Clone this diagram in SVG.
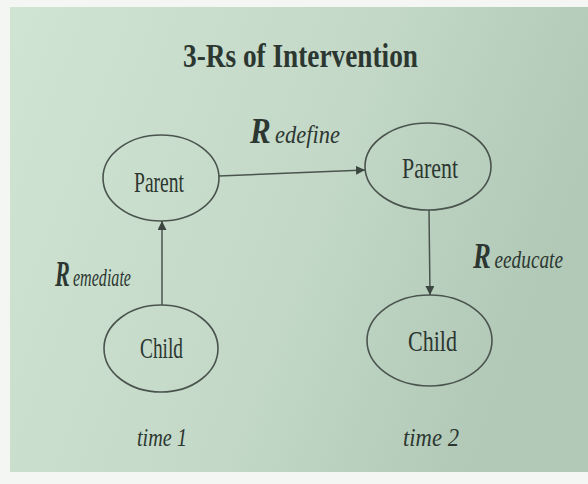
<svg xmlns="http://www.w3.org/2000/svg" width="588" height="484" viewBox="0 0 588 484">
<defs>
<linearGradient id="page" x1="0" y1="0" x2="1" y2="0.3">
<stop offset="0" stop-color="#cfe4d2"/>
<stop offset="0.6" stop-color="#c3d8c7"/>
<stop offset="1" stop-color="#b2c9b7"/>
</linearGradient>
<marker id="arr" viewBox="0 0 10 10" refX="10" refY="5" markerWidth="9" markerHeight="9" markerUnits="userSpaceOnUse" orient="auto">
<path d="M0,0 L10,5 L0,10 z" fill="#3c4640"/>
</marker>
<style>
.node ellipse{fill:none;stroke:#4a544e;stroke-width:1.6}
.lbl{font-family:"Liberation Serif","Times New Roman",serif;fill:#2c3731;text-anchor:start}
.nt{font-size:29px}
.it{font-style:italic;font-size:26px}
.bi{font-style:italic;font-weight:bold;font-size:36px}
.conn line{stroke:#4a544e;stroke-width:1.5;marker-end:url(#arr)}
</style>
</defs>
<rect x="0" y="0" width="588" height="484" fill="#f4f6f4"/>
<rect x="10" y="7" width="578" height="465" fill="url(#page)"/>
<text class="lbl" x="183" y="67" font-size="34" font-weight="bold" textLength="235" lengthAdjust="spacingAndGlyphs">3-Rs of Intervention</text>
<g id="parent1" class="node">
<ellipse cx="161" cy="178" rx="58" ry="43"/>
<text class="lbl nt" x="134" y="192" textLength="50" lengthAdjust="spacingAndGlyphs">Parent</text>
</g>
<g id="child1" class="node">
<ellipse cx="161" cy="348.5" rx="57" ry="43.5"/>
<text class="lbl nt" x="140" y="358" textLength="43" lengthAdjust="spacingAndGlyphs">Child</text>
</g>
<g id="parent2" class="node">
<ellipse cx="428" cy="166.5" rx="63" ry="43.5"/>
<text class="lbl nt" x="402" y="178" textLength="56" lengthAdjust="spacingAndGlyphs">Parent</text>
</g>
<g id="child2" class="node">
<ellipse cx="429.5" cy="340.5" rx="62.5" ry="45.5"/>
<text class="lbl nt" x="408" y="351" textLength="49" lengthAdjust="spacingAndGlyphs">Child</text>
</g>
<g id="connectors" class="conn">
<line x1="219" y1="176" x2="365" y2="170"/>
<line x1="162" y1="305" x2="162" y2="221"/>
<line x1="429" y1="210" x2="430" y2="295"/>
</g>
<g id="labels">
<text class="lbl" x="250" y="143" textLength="90" lengthAdjust="spacingAndGlyphs"><tspan class="bi">R</tspan><tspan class="it" dx="5">edefine</tspan></text>
<text class="lbl" x="55" y="286" textLength="76" lengthAdjust="spacingAndGlyphs"><tspan class="bi">R</tspan><tspan class="it" dx="5">emediate</tspan></text>
<text class="lbl" x="473" y="268" textLength="90" lengthAdjust="spacingAndGlyphs"><tspan class="bi">R</tspan><tspan class="it" dx="5">eeducate</tspan></text>
<text class="lbl it" x="137" y="446" textLength="50" lengthAdjust="spacingAndGlyphs">time 1</text>
<text class="lbl it" x="403" y="446" textLength="56" lengthAdjust="spacingAndGlyphs">time 2</text>
</g>
</svg>
